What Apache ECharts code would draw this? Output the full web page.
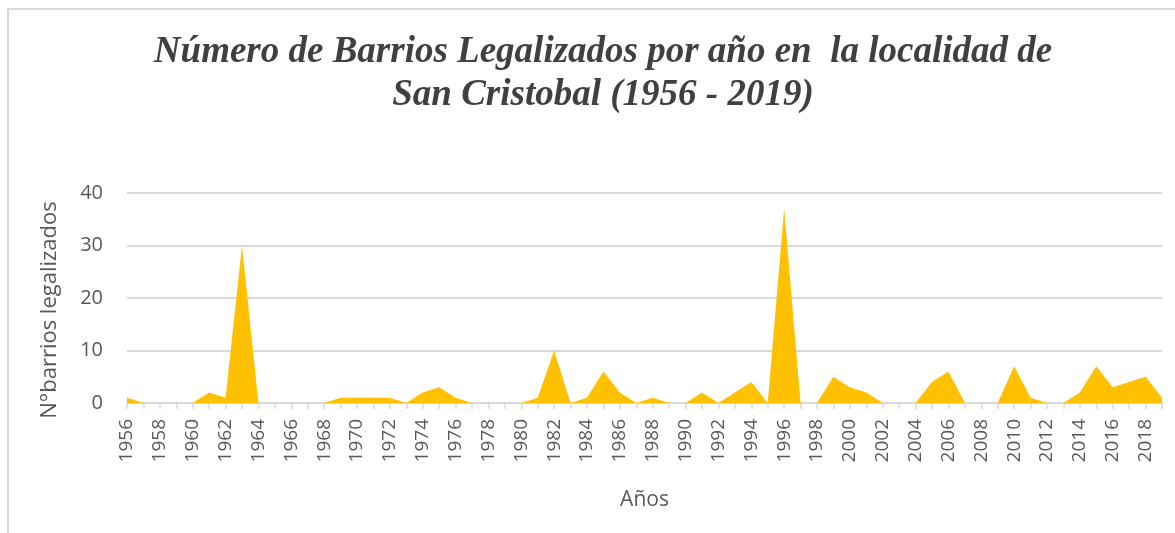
<!DOCTYPE html>
<html>
<head>
<meta charset="utf-8">
<script src="https://cdn.jsdelivr.net/npm/echarts@6/dist/echarts.min.js"></script>
<style>
  html, body { margin: 0; padding: 0; background: #fff; }
  #frame {
    position: absolute; left: 7px; top: 8px; width: 1200px; height: 560px;
    border-left: 2px solid #d9d9d9; border-top: 2px solid #d9d9d9;
  }
  #chart { position: absolute; left: 0; top: 0; width: 1175px; height: 533px; }
</style>
</head>
<body>
<div id="frame"></div>
<div id="chart"></div>
<script>
// años 1956 - 2019
var years = [];
for (var y = 1956; y <= 2019; y++) years.push(String(y));

// barrios legalizados por año
var barrios = [
  1, 0, 0, 0, 0, 2, 1, 30, 0, 0,     // 1956-1965
  0, 0, 0, 1, 1, 1, 1, 0, 2, 3,      // 1966-1975
  1, 0, 0, 0, 0, 1, 10, 0, 1, 6,     // 1976-1985
  2, 0, 1, 0, 0, 2, 0, 2, 4, 0,      // 1986-1995
  37, 0, 0, 5, 3, 2, 0, 0, 0, 4,     // 1996-2005
  6, 0, 0, 0, 7, 1, 0, 0, 2, 7,      // 2006-2015
  3, 4, 5, 1                         // 2016-2019
];

var titulo = 'Número de Barrios Legalizados por año en  la localidad de\nSan Cristobal (1956 - 2019)';

var chart = echarts.init(document.getElementById('chart'));
var option = {
  animation: false,
  title: {
    text: titulo,
    left: 598,
    textAlign: 'center',
    top: 26,
    textStyle: {
      fontFamily: 'Liberation Serif',
      fontStyle: 'italic',
      fontWeight: 'bold',
      fontSize: 37,
      lineHeight: 43,
      color: '#404040'
    }
  },
  grid: { left: 127, right: 13, top: 193, bottom: 130 },
  xAxis: {
    type: 'category',
    data: years,
    boundaryGap: false,
    name: 'Años',
    nameLocation: 'middle',
    nameGap: 87,
    nameTextStyle: { fontFamily: 'Open Sans', fontSize: 21, color: '#595959' },
    axisLine: { lineStyle: { color: '#d9d9d9', width: 1.5 } },
    axisTick: { show: true, interval: 0, length: 6, lineStyle: { color: '#d9d9d9', width: 1.5 } },
    axisLabel: {
      interval: 1,
      rotate: 90,
      margin: 16,
      fontFamily: 'Open Sans',
      fontSize: 19,
      color: '#595959'
    }
  },
  yAxis: {
    type: 'value',
    min: 0,
    max: 40,
    interval: 10,
    name: 'N°barrios legalizados',
    nameLocation: 'middle',
    nameRotate: 90,
    nameGap: 66,
    nameTextStyle: { fontFamily: 'Open Sans', fontSize: 22, color: '#595959', padding: [0, 24, 0, 0] },
    axisLine: { show: false },
    axisTick: { show: false },
    axisLabel: { margin: 24, fontFamily: 'Open Sans', fontSize: 20, color: '#595959' },
    splitLine: { lineStyle: { color: '#d9d9d9', width: 2 } }
  },
  series: [{
    type: 'line',
    data: barrios,
    showSymbol: false,
    lineStyle: { width: 0 },
    itemStyle: { color: '#FFC000' },
    areaStyle: { color: '#FFC000', opacity: 1 }
  }]
};
chart.setOption(option);
</script>
</body>
</html>
